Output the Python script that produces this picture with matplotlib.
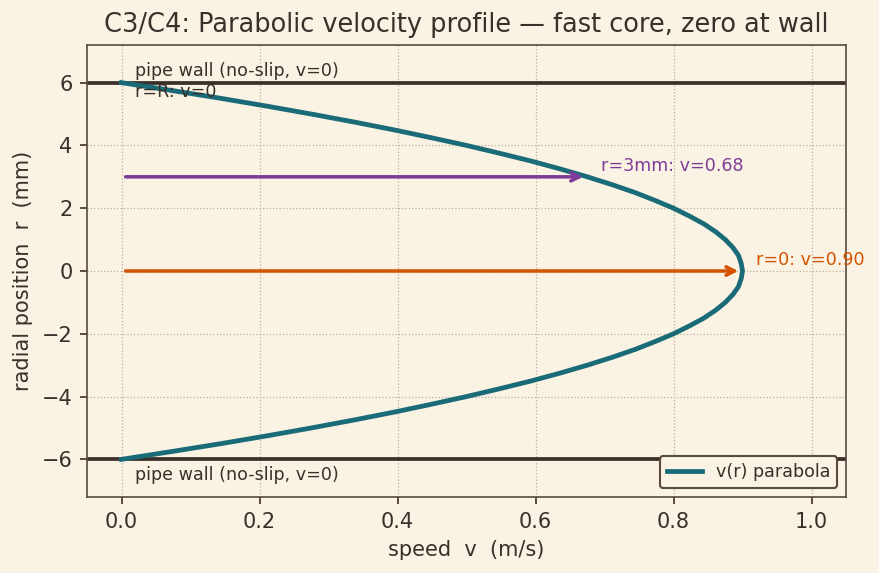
import numpy as np
import matplotlib
matplotlib.use("Agg")
import matplotlib.pyplot as plt

# radial positions (mm) and speeds (m/s)
r_mm = [-6.0, -5.75, -5.5, -5.25, -5.0, -4.75, -4.5, -4.25, -4.0, -3.75, -3.5, -3.25,
        -3.0, -2.75, -2.5, -2.25, -2.0, -1.75, -1.5, -1.25, -1.0, -0.75, -0.5, -0.25,
        0.0, 0.25, 0.5, 0.75, 1.0, 1.25, 1.5, 1.75, 2.0, 2.25, 2.5, 2.75,
        3.0, 3.25, 3.5, 3.75, 4.0, 4.25, 4.5, 4.75, 5.0, 5.25, 5.5, 5.75, 6.0]
v_ms = [0.0, 0.073, 0.144, 0.211, 0.275, 0.336, 0.394, 0.448, 0.500, 0.548, 0.594, 0.636,
        0.675, 0.711, 0.744, 0.773, 0.800, 0.823, 0.844, 0.861, 0.875, 0.886, 0.894, 0.898,
        0.900, 0.898, 0.894, 0.886, 0.875, 0.861, 0.844, 0.823, 0.800, 0.773, 0.744, 0.711,
        0.675, 0.636, 0.594, 0.548, 0.500, 0.448, 0.394, 0.336, 0.275, 0.211, 0.144, 0.073, 0.0]

wall_r = [6.0, -6.0]
probe_r = [3.0, 0.0]
probe_v = [0.675, 0.90]
probe_labels = ["r=3mm: v=0.68", "r=0: v=0.90"]
probe_colors = ["#7d3c98", "#d35400"]

BG = "#faf2e3"
INK = "#3b2f2a"


def main():
    plt.rcParams.update({
        "font.family": "DejaVu Sans",
        "text.color": INK,
        "axes.labelcolor": INK,
        "xtick.color": INK,
        "ytick.color": INK,
        "axes.edgecolor": "#5a4a3c",
    })
    fig, ax = plt.subplots(figsize=(5.86, 3.82), dpi=150)
    fig.patch.set_facecolor(BG)
    ax.set_facecolor(BG)

    ax.plot(v_ms, r_mm, color="#1a6b78", lw=2.3, label="v(r) parabola", zorder=3)

    for w in wall_r:
        ax.axhline(w, color=INK, lw=1.8, zorder=2)
    ax.text(0.02, 6.1, "pipe wall (no-slip, v=0)", fontsize=8.4, va="bottom")
    ax.text(0.02, -6.2, "pipe wall (no-slip, v=0)", fontsize=8.4, va="top")
    ax.text(0.02, 6.0, "r=R: v=0", fontsize=8.4, va="top")

    for r, v, lab, c in zip(probe_r, probe_v, probe_labels, probe_colors):
        ax.annotate("", xy=(v, r), xytext=(0.0, r),
                    arrowprops=dict(arrowstyle="->", color=c, lw=1.7), zorder=4)
        ax.text(v + 0.02, r + 0.05, lab, color=c, fontsize=8.4, va="bottom")

    ax.set_xlim(-0.05, 1.05)
    ax.set_ylim(-7.2, 7.2)
    ax.grid(True, ls=":", color="#b8b0a0", lw=0.6)
    ax.set_xlabel("speed  v  (m/s)", fontsize=10)
    ax.set_ylabel("radial position  r  (mm)", fontsize=10)
    ax.set_title("C3/C4: Parabolic velocity profile — fast core, zero at wall", fontsize=12.3)
    ax.tick_params(labelsize=10)
    ax.legend(loc="lower right", fontsize=8.4, facecolor=BG, edgecolor="#5a4a3c",
              fancybox=True, framealpha=1)
    fig.subplots_adjust(left=0.099, right=0.9625, top=0.9215, bottom=0.1326)
    fig.savefig("out.png", facecolor=BG)


if __name__ == "__main__":
    main()
